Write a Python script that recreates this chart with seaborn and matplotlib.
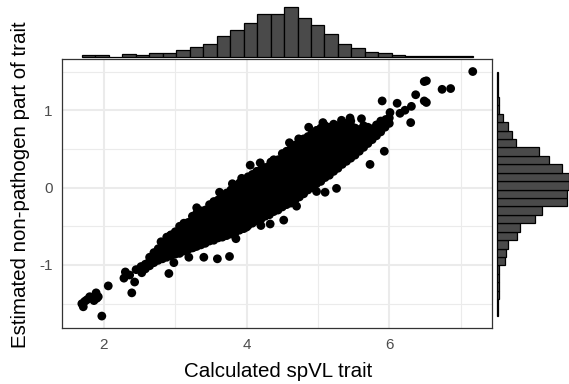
import numpy as np
import pandas as pd
import matplotlib
matplotlib.use('Agg')
import matplotlib.pyplot as plt
import seaborn as sns

# ------------------------------------------------------------
# data
# ------------------------------------------------------------

x_label = 'Calculated spVL trait'
y_label = 'Estimated non-pathogen part of trait'

x_major = [2, 4, 6]
x_minor = [3, 5, 7]
y_major = [-1, 0, 1]
y_minor = [-1.5, -0.5, 0.5, 1.5]

# scattered points away from the dense band
outlier_pts = [
    (1.69, -1.50), (1.71, -1.54), (1.73, -1.47), (1.76, -1.45), (1.80, -1.41),
    (1.86, -1.46), (1.89, -1.36), (1.92, -1.41), (1.90, -1.43), (1.97, -1.66),
    (2.06, -1.27), (2.28, -1.17), (2.30, -1.09), (2.36, -1.13), (2.43, -1.22),
    (2.39, -1.36), (2.45, -1.06), (2.52, -1.02), (2.53, -1.10), (2.91, -1.11),
    (2.98, -0.97), (2.93, -0.62), (3.00, -0.60), (3.19, -0.90), (3.26, -0.77),
    (3.40, -0.90), (3.59, -0.92), (3.76, -0.89), (4.00, -0.51), (4.33, -0.47),
    (4.52, -0.42), (4.98, -0.05), (5.10, -0.06), (5.26, -0.01), (4.05, 0.29),
    (3.93, 0.12), (4.34, 0.33), (4.38, 0.36), (4.73, 0.63), (4.84, 0.61),
    (4.87, 0.78), (5.03, 0.66), (5.07, 0.84), (5.21, 0.74), (5.33, 0.87),
    (5.45, 0.90), (5.61, 0.89), (5.73, 0.30), (5.93, 0.47), (5.89, 0.83),
    (5.95, 0.88), (6.01, 0.97), (5.90, 1.12), (6.11, 1.09), (6.15, 0.96),
    (6.22, 1.00), (6.31, 1.05), (6.30, 0.84), (6.37, 1.20), (6.49, 1.12),
    (6.52, 1.10), (6.49, 1.37), (6.52, 1.38), (6.74, 1.27), (6.86, 1.28),
    (7.17, 1.50), (3.62, -0.06), (3.80, 0.05), (4.19, 0.32), (4.60, 0.58),
    (3.30, -0.26), (2.80, -0.70), (4.70, -0.24), (4.20, -0.49), (3.85, -0.66),
]

# dense band: x position and the y values stacked at that x
band_cols = [
    (2.58, [-1.05, -0.99]),
    (2.64, [-1.01, -0.95, -0.90]),
    (2.70, [-0.97, -0.91, -0.84]),
    (2.76, [-0.94, -0.86, -0.79]),
    (2.82, [-0.92, -0.85, -0.77, -0.72]),
    (2.88, [-0.90, -0.83, -0.76, -0.69, -0.64]),
    (2.94, [-0.88, -0.82, -0.75, -0.67, -0.61]),
    (3.00, [-0.86, -0.79, -0.71, -0.65, -0.57]),
    (3.06, [-0.85, -0.77, -0.70, -0.63, -0.55, -0.50]),
    (3.12, [-0.82, -0.75, -0.68, -0.60, -0.54, -0.46]),
    (3.18, [-0.80, -0.72, -0.66, -0.58, -0.51, -0.45]),
    (3.24, [-0.78, -0.70, -0.63, -0.56, -0.49, -0.42, -0.37]),
    (3.30, [-0.76, -0.69, -0.61, -0.54, -0.47, -0.40, -0.33]),
    (3.36, [-0.74, -0.66, -0.59, -0.52, -0.45, -0.38, -0.30]),
    (3.42, [-0.72, -0.64, -0.57, -0.50, -0.43, -0.36, -0.29]),
    (3.48, [-0.69, -0.62, -0.55, -0.48, -0.41, -0.34, -0.27, -0.22]),
    (3.54, [-0.68, -0.60, -0.53, -0.46, -0.39, -0.32, -0.25, -0.18]),
    (3.60, [-0.65, -0.58, -0.51, -0.44, -0.37, -0.30, -0.23, -0.16]),
    (3.66, [-0.64, -0.56, -0.49, -0.42, -0.35, -0.28, -0.21, -0.13]),
    (3.72, [-0.62, -0.54, -0.47, -0.40, -0.33, -0.26, -0.19, -0.12, -0.07]),
    (3.78, [-0.60, -0.52, -0.45, -0.38, -0.31, -0.24, -0.17, -0.10, -0.03]),
    (3.84, [-0.58, -0.50, -0.43, -0.36, -0.29, -0.22, -0.15, -0.08, -0.01]),
    (3.90, [-0.55, -0.48, -0.41, -0.34, -0.27, -0.20, -0.13, -0.06, 0.02, 0.06]),
    (3.96, [-0.53, -0.45, -0.38, -0.31, -0.24, -0.17, -0.10, -0.03, 0.04, 0.10]),
    (4.02, [-0.49, -0.42, -0.35, -0.28, -0.21, -0.14, -0.07, 0.00, 0.07, 0.14]),
    (4.08, [-0.46, -0.39, -0.32, -0.25, -0.18, -0.11, -0.04, 0.03, 0.10, 0.17]),
    (4.14, [-0.43, -0.36, -0.29, -0.22, -0.15, -0.08, -0.01, 0.06, 0.13, 0.21]),
    (4.20, [-0.41, -0.33, -0.26, -0.19, -0.12, -0.05, 0.02, 0.09, 0.16, 0.23]),
    (4.26, [-0.37, -0.30, -0.23, -0.16, -0.09, -0.02, 0.05, 0.12, 0.19, 0.26]),
    (4.32, [-0.35, -0.27, -0.20, -0.13, -0.06, 0.01, 0.08, 0.15, 0.22, 0.28]),
    (4.38, [-0.31, -0.24, -0.17, -0.10, -0.03, 0.04, 0.11, 0.18, 0.25, 0.31]),
    (4.44, [-0.29, -0.21, -0.14, -0.07, 0.00, 0.07, 0.14, 0.21, 0.28, 0.36]),
    (4.50, [-0.25, -0.18, -0.11, -0.04, 0.03, 0.10, 0.17, 0.24, 0.31, 0.38, 0.44]),
    (4.56, [-0.22, -0.15, -0.08, -0.01, 0.06, 0.13, 0.20, 0.27, 0.34, 0.41, 0.47]),
    (4.62, [-0.20, -0.12, -0.05, 0.02, 0.09, 0.16, 0.23, 0.30, 0.37, 0.44, 0.50]),
    (4.68, [-0.16, -0.09, -0.02, 0.05, 0.12, 0.19, 0.26, 0.33, 0.40, 0.47, 0.55]),
    (4.74, [-0.12, -0.05, 0.02, 0.09, 0.16, 0.23, 0.30, 0.37, 0.44, 0.51, 0.58]),
    (4.80, [-0.08, -0.01, 0.06, 0.13, 0.20, 0.27, 0.34, 0.41, 0.48, 0.55, 0.63]),
    (4.86, [-0.03, 0.03, 0.10, 0.17, 0.24, 0.31, 0.38, 0.45, 0.52, 0.59, 0.66]),
    (4.92, [0.00, 0.07, 0.14, 0.21, 0.28, 0.35, 0.42, 0.49, 0.56, 0.63, 0.71]),
    (4.98, [0.05, 0.11, 0.18, 0.25, 0.32, 0.39, 0.46, 0.53, 0.60, 0.67, 0.74]),
    (5.04, [0.08, 0.15, 0.22, 0.29, 0.36, 0.43, 0.50, 0.57, 0.64, 0.71, 0.77]),
    (5.10, [0.13, 0.19, 0.26, 0.33, 0.40, 0.47, 0.54, 0.61, 0.68, 0.75, 0.80]),
    (5.16, [0.16, 0.23, 0.30, 0.37, 0.44, 0.51, 0.58, 0.65, 0.72, 0.78]),
    (5.22, [0.21, 0.28, 0.35, 0.42, 0.49, 0.56, 0.63, 0.70, 0.77, 0.82]),
    (5.28, [0.25, 0.32, 0.39, 0.46, 0.53, 0.60, 0.67, 0.74, 0.80]),
    (5.34, [0.30, 0.37, 0.44, 0.51, 0.58, 0.65, 0.72, 0.79, 0.84]),
    (5.40, [0.34, 0.41, 0.48, 0.55, 0.62, 0.69, 0.76, 0.83]),
    (5.46, [0.38, 0.45, 0.52, 0.59, 0.66, 0.73, 0.80, 0.86]),
    (5.52, [0.42, 0.49, 0.56, 0.63, 0.70, 0.77]),
    (5.58, [0.47, 0.54, 0.61, 0.68, 0.75]),
    (5.64, [0.52, 0.59, 0.66, 0.73, 0.80]),
    (5.70, [0.57, 0.64, 0.71, 0.78]),
    (5.76, [0.62, 0.69, 0.76]),
    (5.82, [0.67, 0.74, 0.81]),
    (5.88, [0.72, 0.79, 0.86]),
    (5.94, [0.78, 0.85]),
    (6.00, [0.83, 0.90]),
]

# marginal histogram bar heights (29 bins each, low -> high)
top_counts = [4, 4, 1, 7, 4, 10, 11, 18, 26, 34, 52, 68, 86, 108, 108,
              126, 99, 81, 57, 34, 22, 13, 10, 5, 3, 3, 2, 2, 2]
right_counts = [1, 1, 3, 2, 3, 3, 11, 13, 17, 30, 35, 58, 68, 106, 106,
                109, 109, 99, 78, 64, 29, 22, 16, 8, 3, 2, 1, 1, 1]

# ------------------------------------------------------------
# build tables
# ------------------------------------------------------------

xs = [p[0] for p in outlier_pts]
ys = [p[1] for p in outlier_pts]
for cx, col in band_cols:
    for cy in col:
        xs.append(cx)
        ys.append(cy)
df = pd.DataFrame({'spvl': xs, 'nonpath': ys})

x0, x1 = float(df['spvl'].min()), float(df['spvl'].max())
y0, y1 = float(df['nonpath'].min()), float(df['nonpath'].max())

x_edges = np.linspace(x0, x1, len(top_counts) + 1)
y_edges = np.linspace(y0, y1, len(right_counts) + 1)
top_df = pd.DataFrame({'mid': (x_edges[:-1] + x_edges[1:]) / 2, 'n': top_counts})
right_df = pd.DataFrame({'mid': (y_edges[:-1] + y_edges[1:]) / 2, 'n': right_counts})

# ------------------------------------------------------------
# figure
# ------------------------------------------------------------

sns.set_theme(style='white')
plt.rcParams['font.family'] = ['Liberation Sans', 'DejaVu Sans']

W, H = 569, 384
fig = plt.figure(figsize=(W / 100, H / 100), dpi=100)


def px_axes(left, top, right, bottom):
    return fig.add_axes([left / W, 1 - bottom / H, (right - left) / W, (bottom - top) / H])


ax = px_axes(62.3, 59.3, 492.3, 328.3)
sns.scatterplot(data=df, x='spvl', y='nonpath', color='black', s=40,
                linewidth=0, edgecolor='none', ax=ax)

pad_x = 0.05 * (x1 - x0)
pad_y = 0.05 * (y1 - y0)
ax.set_xlim(x0 - pad_x, x1 + pad_x)
ax.set_ylim(y0 - pad_y, y1 + pad_y)

ax.set_xticks(x_major)
ax.set_xticks(x_minor, minor=True)
ax.set_yticks(y_major)
ax.set_yticks(y_minor, minor=True)
ax.set_yticklabels([str(v) for v in y_major])
ax.grid(which='major', color='#EBEBEB', linewidth=1.5)
ax.grid(which='minor', color='#EBEBEB', linewidth=0.8)
ax.set_axisbelow(True)
for sp in ax.spines.values():
    sp.set_color('#333333')
    sp.set_linewidth(0.9)
ax.tick_params(which='major', length=3.8, width=0.9, color='#333333',
               labelcolor='#4D4D4D', labelsize=11, pad=3.2)
ax.tick_params(which='minor', length=0)

ax.set_xlabel(x_label, fontsize=14.8, color='black')
ax.set_ylabel(y_label, fontsize=14.8, color='black')
ax.xaxis.set_label_coords(0.503, -0.161)
ax.xaxis.label.set_va('center')
ax.yaxis.set_label_coords(-0.098, 0.533)
ax.yaxis.label.set_va('center')

# top marginal histogram
ax_top = px_axes(62.3, 7, 492.3, 57)
sns.histplot(data=top_df, x='mid', weights='n', bins=len(top_counts),
             binrange=(x0, x1), ax=ax_top,
             color='#4A4A4A', alpha=1, edgecolor='black', linewidth=0.9)
ax_top.set_xlim(ax.get_xlim())
ax_top.set_ylim(0, max(top_counts))
ax_top.axis('off')

# right marginal histogram
ax_right = px_axes(497.3, 59.3, 569, 328.3)
sns.histplot(data=right_df, y='mid', weights='n', bins=len(right_counts),
             binrange=(y0, y1), ax=ax_right,
             color='#4A4A4A', alpha=1, edgecolor='black', linewidth=0.9)
ax_right.set_ylim(ax.get_ylim())
ax_right.set_xlim(0, max(right_counts))
ax_right.axis('off')

for a in (ax_top, ax_right):
    for patch in a.patches:
        patch.set_clip_on(False)

fig.savefig('out.png', dpi=100)
